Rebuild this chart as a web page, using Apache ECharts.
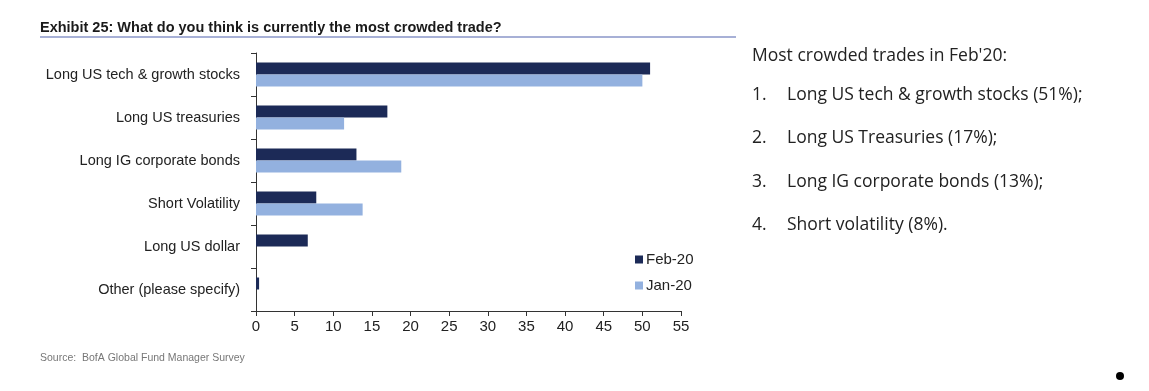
<!DOCTYPE html>
<html><head><meta charset="utf-8">
<script src="https://cdn.jsdelivr.net/npm/echarts@6/dist/echarts.min.js"></script>
<style>html,body{margin:0;padding:0;background:#fff}#c{width:1149px;height:391px}</style>
</head><body><div id="c"></div>
<script>
const categories = ["Long US tech & growth stocks","Long US treasuries","Long IG corporate bonds","Short Volatility","Long US dollar","Other (please specify)"];
const feb20 = [51, 17, 13, 7.8, 6.7, 0.4];
const jan20 = [50, 11.4, 18.8, 13.8, 0, 0];
const seriesNames = ["Feb-20","Jan-20"];
const notes = ["Most crowded trades in Feb'20:","1.","Long US tech & growth stocks (51%);","2.","Long US Treasuries (17%);","3.","Long IG corporate bonds (13%);","4.","Short volatility (8%)."];
const titleText = "Exhibit 25: What do you think is currently the most crowded trade?";
const sourceText = "Source:  BofA Global Fund Manager Survey";

const narrow = "'Liberation Sans', Arial, sans-serif";
const chart = echarts.init(document.getElementById('c'));
const noteFont = "'Open Sans', 'Noto Sans', sans-serif";
const g = [
  {type:'text', left:40, top:20, style:{text:titleText, font:"bold 14.5px " + narrow, fill:'#1a1a1a'}},
  {type:'line', shape:{x1:40,y1:37,x2:736,y2:37}, style:{stroke:'#8a96c8', lineWidth:1.5}},
  {type:'text', left:40, top:353, style:{text:sourceText, font:"10.5px " + narrow, fill:'#777'}},
  {type:'circle', shape:{cx:1120, cy:376, r:4}, style:{fill:'#000'}},
  {type:'text', left:752, top:47, style:{text:notes[0], font:"17.5px " + noteFont, fill:'#222'}}
];
for (let i = 0; i < 4; i++) {
  const y = 86 + i*43.5;
  g.push({type:'text', left:752, top:y, style:{text:notes[1+2*i], font:"17.5px " + noteFont, fill:'#222'}});
  g.push({type:'text', left:787, top:y, style:{text:notes[2+2*i], font:"17.5px " + noteFont, fill:'#222'}});
}
chart.setOption({
  animation:false,
  grid:{left:256, right:468, top:53, bottom:80, containLabel:false},
  legend:{
    orient:'vertical', left:630, top:247, itemWidth:8, itemHeight:8, itemGap:11,
    icon:'rect', data:seriesNames,
    textStyle:{fontSize:15, fontFamily:narrow, color:'#222', padding:[0,0,0,-2]}
  },
  xAxis:{
    type:'value', min:0, max:55, interval:5,
    axisLine:{show:true, lineStyle:{color:'#333', width:1}},
    axisTick:{show:true, length:5, lineStyle:{color:'#333'}},
    splitLine:{show:false},
    axisLabel:{fontFamily:narrow, fontSize:15, color:'#222', margin:8}
  },
  yAxis:{
    type:'category', data:categories, inverse:true,
    axisLine:{show:true, lineStyle:{color:'#333', width:1}},
    axisTick:{show:true, length:5, lineStyle:{color:'#333'}},
    axisLabel:{fontFamily:narrow, fontSize:14.5, color:'#222', margin:16}
  },
  series:[
    {name:seriesNames[0], type:'bar', data:feb20, barWidth:12, barGap:'0%', itemStyle:{color:'#1c2a57'}},
    {name:seriesNames[1], type:'bar', data:jan20, barWidth:12, barGap:'0%', itemStyle:{color:'#93b1df'}}
  ],
  graphic:g
});
</script></body></html>
